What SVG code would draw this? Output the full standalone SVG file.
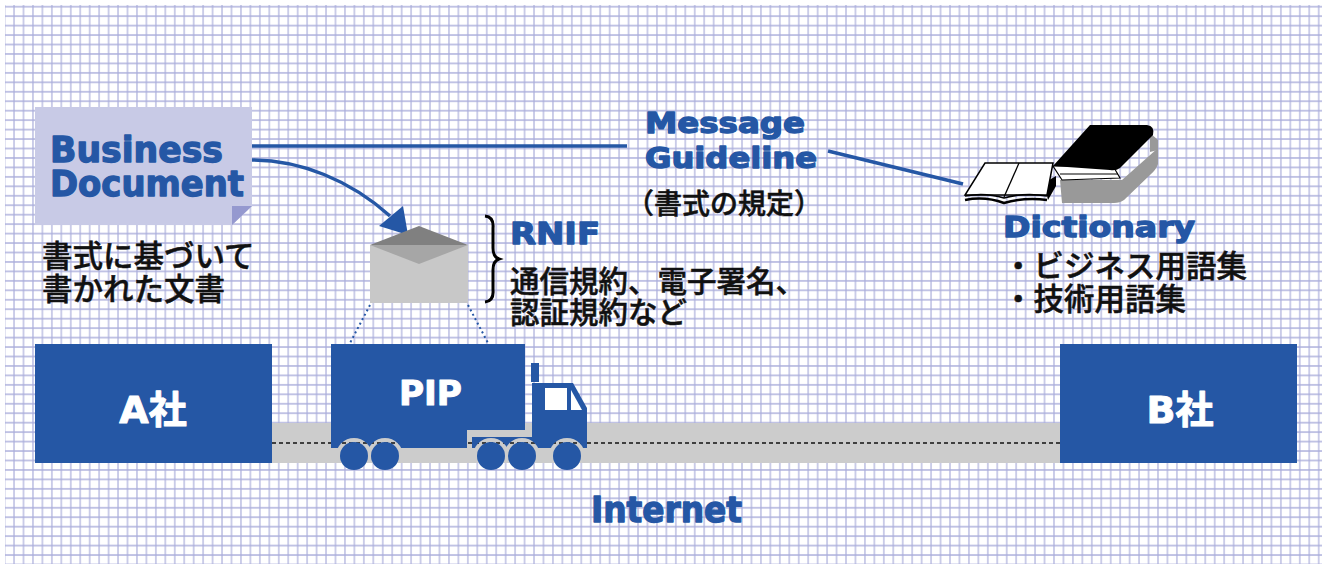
<svg xmlns="http://www.w3.org/2000/svg" width="1322" height="564" viewBox="0 0 1322 564">
  <style>
    .latin { font-family: "DejaVu Sans", "Liberation Sans", sans-serif; font-weight: bold; fill: #2557a5; stroke: #2557a5; stroke-width: 1.3; stroke-linejoin: round; }
    .jp { font-family: "Noto Sans CJK JP", "Noto Sans CJK SC", sans-serif; font-weight: 500; fill: #111111; stroke: #111111; stroke-width: 0.5; }
    .boxlabel { font-family: "DejaVu Sans", "Noto Sans CJK JP", sans-serif; font-weight: bold; fill: #ffffff; stroke: #ffffff; stroke-width: 1; stroke-linejoin: round; }
    .blue { fill: #2557a5; }
    .link { fill: none; stroke: #2557a5; stroke-width: 3.5; }
    .dots { fill: none; stroke: #2557a5; stroke-width: 2; stroke-dasharray: 2 3; }
  </style>
  <defs>
    <pattern id="grid" patternUnits="userSpaceOnUse" x="-0.127" y="1.973" width="9.454" height="9.454">
      <path d="M4.727 0V9.454M0 4.727H9.454" stroke="#abaedb" stroke-width="1.2" fill="none"/>
    </pattern>
    <!-- wheel arches cut out of the truck body -->
    <mask id="arches" maskUnits="userSpaceOnUse" x="300" y="330" width="320" height="150">
      <rect x="300" y="330" width="320" height="150" fill="#fff"/>
      <circle cx="354" cy="456" r="18" fill="#000"/>
      <circle cx="385" cy="456" r="18" fill="#000"/>
      <circle cx="491" cy="456" r="18" fill="#000"/>
      <circle cx="522" cy="456" r="18" fill="#000"/>
      <circle cx="567" cy="456" r="18" fill="#000"/>
    </mask>
  </defs>

  <!-- graph paper background -->
  <rect width="1322" height="564" fill="#ffffff"/>
  <rect x="5" y="5" width="1317" height="559" fill="url(#grid)"/>

  <!-- road -->
  <g id="internet">
    <rect x="272" y="423" width="788" height="40" fill="#cccccc"/>
    <line x1="272" y1="443" x2="1060" y2="443" stroke="#111" stroke-width="1.5" stroke-dasharray="4 3"/>
    <text class="latin" x="591" y="522" font-size="35" textLength="151" lengthAdjust="spacingAndGlyphs">Internet</text>
  </g>

  <!-- connectors -->
  <g id="connectors">
    <line class="link" x1="252" y1="146" x2="627" y2="146"/>
    <line class="link" x1="828" y1="151" x2="963" y2="184"/>
    <path class="link" stroke-width="4" d="M252,160 C300,160 350,180 390,216"/>
    <polygon class="blue" points="408,235 379,226 403,206"/>
    <line class="dots" x1="370" y1="305" x2="350" y2="343"/>
    <line class="dots" x1="468" y1="305" x2="488" y2="343"/>
  </g>

  <!-- business document -->
  <g id="business-document">
    <polygon points="35,107 252,107 252,206 232,225 35,225" fill="#c8cae6"/>
    <polygon points="232,206 252,206 232,225" fill="#9599cf"/>
    <text class="latin" x="50" y="162" font-size="35" textLength="173" lengthAdjust="spacingAndGlyphs">Business</text>
    <text class="latin" x="50" y="196" font-size="35" textLength="194" lengthAdjust="spacingAndGlyphs">Document</text>
    <text class="jp" x="42" y="267" font-size="30.5">書式に基づいて</text>
    <text class="jp" x="42" y="300" font-size="30.5">書かれた文書</text>
  </g>

  <!-- envelope -->
  <g id="envelope">
    <rect x="370" y="245" width="98" height="58" fill="#c8c8c8"/>
    <polygon points="370,245 468,245 419,226" fill="#808080"/>
    <polygon points="370,245 468,245 419,264" fill="#a6a6a6"/>
  </g>

  <!-- RNIF -->
  <g id="rnif">
    <path d="M485,216 Q494,217 493,228 L493,248 Q493,257 499,259 Q493,261 493,270 L493,290 Q494,301 485,302" fill="none" stroke="#000" stroke-width="3"/>
    <text class="latin" x="510" y="244" font-size="31" textLength="90" lengthAdjust="spacingAndGlyphs">RNIF</text>
    <text class="jp" x="510" y="292" font-size="29.5">通信規約、電子署名、</text>
    <text class="jp" x="510" y="323" font-size="29.5">認証規約など</text>
  </g>

  <!-- message guideline -->
  <g id="message-guideline">
    <text class="latin" x="645" y="133" font-size="28" textLength="160" lengthAdjust="spacingAndGlyphs">Message</text>
    <text class="latin" x="645" y="168" font-size="28" textLength="172" lengthAdjust="spacingAndGlyphs">Guideline</text>
    <text class="jp" x="626" y="214" font-size="28">（書式の規定）</text>
  </g>

  <!-- dictionary -->
  <g id="dictionary">
    <!-- lower grey book -->
    <path d="M1060,180 L1122,180 L1158,148 L1158,164 Q1156,170 1150,175 L1124,200 Q1120,203 1114,203 L1062,203 Z" fill="#999999"/>
    <path d="M1150,133 L1158,140 L1158,150 L1150,152 Z" fill="#999999"/>
    <!-- pages of the closed book -->
    <path d="M1053,166 L1113,166 L1120,178 L1062,180 Z" fill="#ffffff" stroke="#000" stroke-width="1.2"/>
    <path d="M1060,174 L1118,174" stroke="#000" stroke-width="1.2"/>
    <!-- black cover -->
    <path d="M1090,125 L1147,125 Q1155,126 1153,135 L1120,168 Q1116,171 1110,170 L1053,166 Z" fill="#000"/>
    <!-- open book -->
    <path d="M1044,183 L1056,176 L1056,186 L1048,200 Z" fill="#000"/>
    <polygon points="985,163 1053,163 1047,195 965,195" fill="#ffffff" stroke="#000" stroke-width="1.5"/>
    <line x1="1019" y1="163" x2="1004" y2="197" stroke="#000" stroke-width="1.3"/>
    <path d="M965,196 Q985,192 1004,198 Q1025,192 1047,196" fill="none" stroke="#000" stroke-width="1.5"/>
    <path d="M965,200 Q985,196 1004,203 Q1025,197 1047,200" fill="none" stroke="#000" stroke-width="2.5"/>
    <text class="latin" x="1003" y="237" font-size="28" textLength="192" lengthAdjust="spacingAndGlyphs">Dictionary</text>
    <text class="jp" x="1003" y="277" font-size="30.5">・ビジネス用語集</text>
    <text class="jp" x="1003" y="310" font-size="30.5">・技術用語集</text>
  </g>

  <!-- company A -->
  <g id="company-a">
    <rect class="blue" x="35" y="344" width="237" height="119"/>
    <text class="boxlabel" x="153" y="423" font-size="38" text-anchor="middle">A社</text>
  </g>

  <!-- company B -->
  <g id="company-b">
    <rect class="blue" x="1060" y="344" width="237" height="119"/>
    <text class="boxlabel" x="1180" y="423" font-size="38" text-anchor="middle">B社</text>
  </g>

  <!-- PIP truck -->
  <g id="pip">
    <g class="blue" mask="url(#arches)">
      <path d="M331,344 H525 V430 H467 V448 H331 Z"/>
      <rect x="472" y="437" width="115" height="11"/>
      <path d="M532,383 H573 L587,408 V448 H532 Z"/>
    </g>
    <rect class="blue" x="531" y="363" width="8" height="19"/>
    <rect x="545" y="388" width="22" height="22" fill="#fff"/>
    <polygon points="571,390 571,410 582,410" fill="#fff"/>
    <circle class="blue" cx="354" cy="456" r="14"/>
    <circle class="blue" cx="385" cy="456" r="14"/>
    <circle class="blue" cx="491" cy="456" r="14"/>
    <circle class="blue" cx="522" cy="456" r="14"/>
    <circle class="blue" cx="567" cy="456" r="14"/>
    <text class="boxlabel" x="399" y="405" font-size="34" textLength="63" lengthAdjust="spacingAndGlyphs">PIP</text>
  </g>
</svg>
